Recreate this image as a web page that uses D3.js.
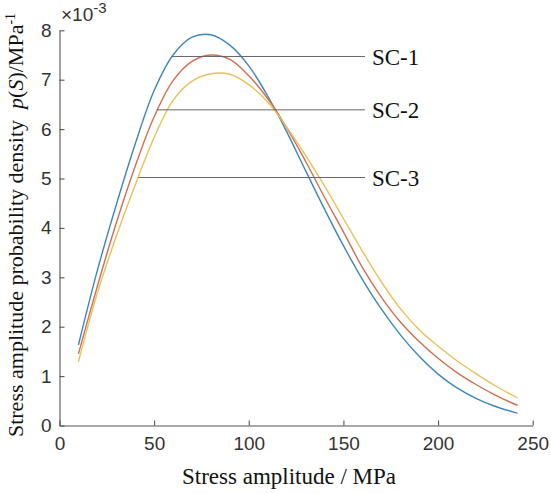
<!DOCTYPE html>
<html>
<head>
<meta charset="utf-8">
<script src="https://cdn.jsdelivr.net/npm/d3@7"></script>
<style>
  body { margin: 0; background: #fff; }
</style>
</head>
<body>
<div id="chart"></div>
<script>
// stress amplitude (MPa) and probability density (x 10^-3 per MPa)
const stress = [10, 20, 30, 40, 50, 60, 70, 80, 90, 100, 110, 120, 130, 140, 150, 160, 170, 180, 190, 200, 210, 220, 230, 240, 242];
const pSC1 = [1.63, 3.14, 4.47, 5.70, 6.78, 7.50, 7.86, 7.91, 7.70, 7.28, 6.67, 5.95, 5.16, 4.38, 3.64, 2.96, 2.36, 1.84, 1.40, 1.04, 0.76, 0.55, 0.39, 0.27, 0.25];
const pSC2 = [1.45, 2.82, 4.10, 5.25, 6.25, 6.98, 7.37, 7.50, 7.41, 7.08, 6.62, 6.03, 5.35, 4.62, 3.92, 3.20, 2.60, 2.10, 1.70, 1.36, 1.07, 0.83, 0.62, 0.44, 0.41];
const pSC3 = [1.29, 2.68, 3.83, 4.87, 5.83, 6.58, 6.97, 7.12, 7.11, 6.90, 6.55, 6.04, 5.47, 4.85, 4.19, 3.53, 2.91, 2.37, 1.94, 1.61, 1.31, 1.05, 0.81, 0.60, 0.56];
const seriesNames = ['SC-1', 'SC-2', 'SC-3'];
// leader lines: start on the curve, end before the label
const leaderStart = [59.3, 51.4, 41.7];
const leaderLevel = [7.47, 6.39, 5.02];
const leaderEnd = 161.4;
const xTicks = [0, 50, 100, 150, 200, 250];
const yTicks = [0, 1, 2, 3, 4, 5, 6, 7, 8];

const width = 551, height = 493;
const colors = ['#3d86b9', '#cf6f51', '#e7c15a'];

const svg = d3.select('#chart').append('svg')
  .attr('width', width).attr('height', height);

const x = d3.scaleLinear().domain([0, 250]).range([59.5, 532.7]);
const y = d3.scaleLinear().domain([0, 8]).range([425.5, 30.3]);

// axes (MATLAB style, ticks inside, no box)
const gx = svg.append('g')
  .attr('transform', `translate(0,${y(0)})`)
  .call(d3.axisBottom(x).tickValues(xTicks).tickSizeInner(-5).tickSizeOuter(0).tickPadding(11));
const gy = svg.append('g')
  .attr('transform', `translate(${x(0)},0)`)
  .call(d3.axisLeft(y).tickValues(yTicks).tickSizeInner(-5).tickSizeOuter(0).tickPadding(8));

[gx, gy].forEach(g => {
  g.select('.domain').attr('stroke', '#555').attr('stroke-width', 1.1);
  g.selectAll('.tick line').attr('stroke', '#555').attr('stroke-width', 1.1);
  g.selectAll('.tick text')
    .attr('fill', '#333')
    .style('font-family', '"Liberation Sans", Arial, sans-serif')
    .style('font-size', '19px');
});

// exponent label
const expo = svg.append('text')
  .attr('x', 61).attr('y', 21)
  .attr('fill', '#333')
  .style('font-family', '"Liberation Sans", Arial, sans-serif')
  .style('font-size', '19px');
expo.append('tspan').text('\u00d710');
expo.append('tspan').attr('dy', -8).style('font-size', '15px').text('-3');

// curves
const line = d3.line()
  .x(d => x(d[0]))
  .y(d => y(d[1]))
  .curve(d3.curveCatmullRom.alpha(0.5));

[pSC1, pSC2, pSC3].forEach((vals, i) => {
  svg.append('path')
    .datum(stress.map((s, j) => [s, vals[j]]))
    .attr('fill', 'none')
    .attr('stroke', colors[i])
    .attr('stroke-width', 1.4)
    .attr('d', line);
});

// leader lines and labels
seriesNames.forEach((name, i) => {
  svg.append('line')
    .attr('x1', x(leaderStart[i])).attr('x2', x(leaderEnd))
    .attr('y1', y(leaderLevel[i])).attr('y2', y(leaderLevel[i]))
    .attr('stroke', '#666').attr('stroke-width', 1);
  svg.append('text')
    .attr('x', x(leaderEnd) + 7)
    .attr('y', y(leaderLevel[i]))
    .attr('dy', '0.35em')
    .attr('fill', '#111')
    .style('font-family', '"Liberation Serif", "Times New Roman", serif')
    .style('font-size', '23px')
    .text(name);
});

// axis titles
svg.append('text')
  .attr('x', 289).attr('y', 484)
  .attr('text-anchor', 'middle')
  .attr('fill', '#111')
  .style('font-family', '"Liberation Serif", "Times New Roman", serif')
  .style('font-size', '23px')
  .text('Stress amplitude / MPa');

const yt = svg.append('text')
  .attr('transform', 'translate(23,225) rotate(-90)')
  .attr('text-anchor', 'middle')
  .attr('fill', '#111')
  .style('font-family', '"Liberation Serif", "Times New Roman", serif')
  .style('font-size', '22px');
yt.append('tspan').text('Stress amplitude probability density\u00a0\u00a0');
yt.append('tspan').style('font-style', 'italic').text('p');
yt.append('tspan').text('(');
yt.append('tspan').style('font-style', 'italic').text('S');
yt.append('tspan').text(')/MPa');
yt.append('tspan').attr('dy', -8).style('font-size', '14px').text('-1');
</script>
</body>
</html>
